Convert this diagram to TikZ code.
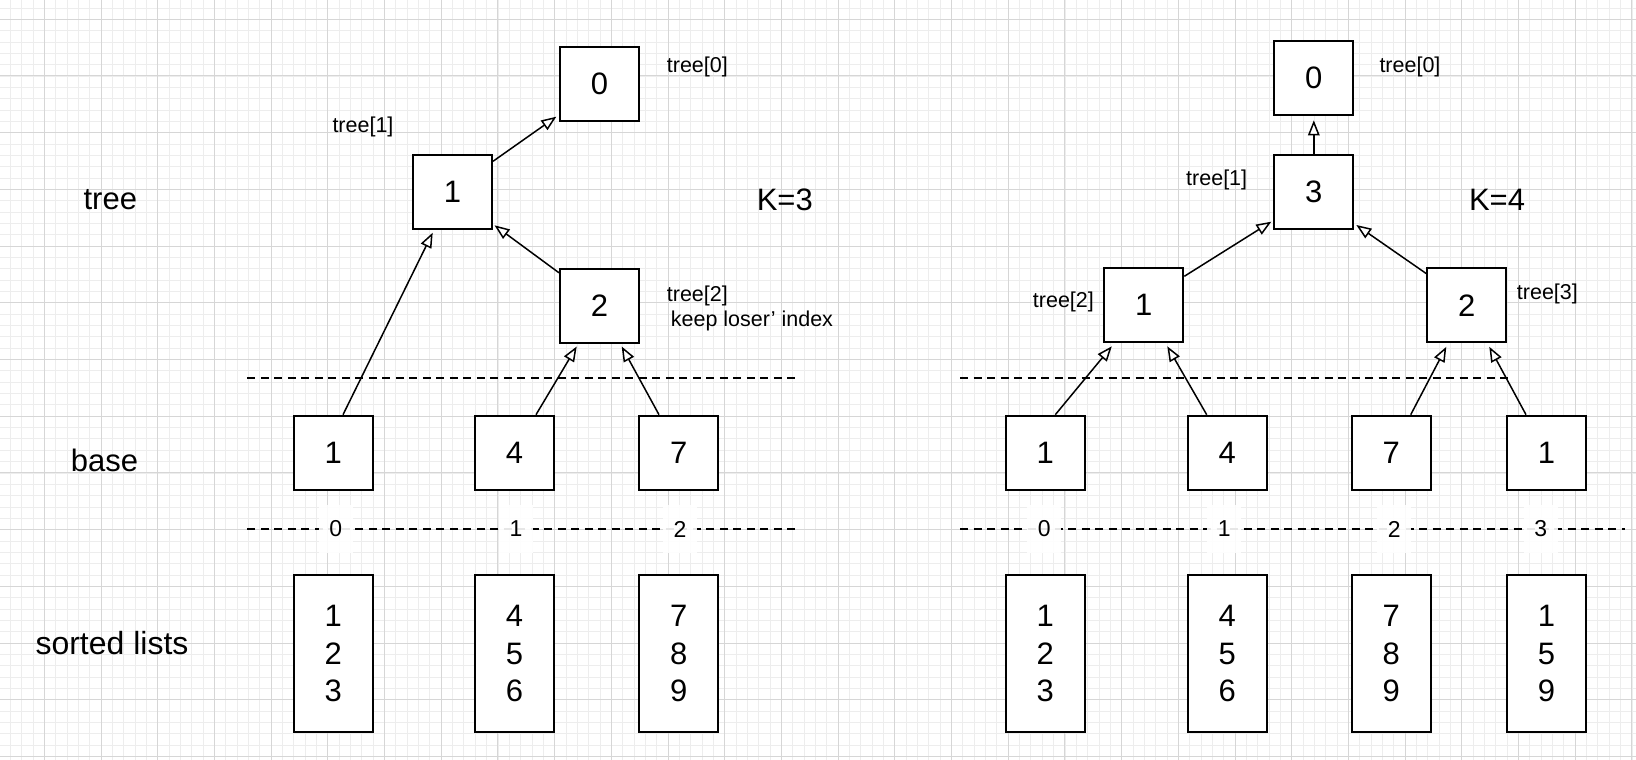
\documentclass[tikz,border=0pt]{standalone}
\usepackage{fontspec}
\setmainfont{Liberation Sans}
\usetikzlibrary{arrows.meta,calc}
\tikzset{
  cellbox/.style={draw, line width=2pt, fill=white, minimum width=79pt, minimum height=74pt, inner sep=0pt, font=\fontsize{31}{37}\selectfont},
  listbox/.style={cellbox, minimum height=157pt, align=center, font=\fontsize{31}{37.5}\selectfont},
  lbl/.style={inner sep=0pt, font=\fontsize{21.5}{25}\selectfont},
  bigtxt/.style={inner sep=0pt, font=\fontsize{31}{37}\selectfont},
  idx/.style={fill=white, fill opacity=0.9, text opacity=1, minimum width=34pt, minimum height=48pt, inner sep=0pt, font=\fontsize{23}{27}\selectfont},
  sepline/.style={line width=1.6pt, dash pattern=on 8pt off 5.5pt},
  link/.style={line width=1.5pt, -{Triangle[length=15pt,width=11.5pt,fill=white]}},
  minorgrid/.style={line width=0.8pt, draw=black!7},
  majorgrid/.style={line width=1pt, draw=black!16},
}
\begin{document}
\begin{tikzpicture}[x=1pt,y=-1pt]
\useasboundingbox (0,0) rectangle (1636,760);
\fill[white] (0,0) rectangle (1636,760);
% grid
\foreach \k in {-3,...,140} \draw[minorgrid] ({44.3+11.34*\k},0) -- ({44.3+11.34*\k},760);
\foreach \k in {-1,...,65} \draw[minorgrid] (0,{19.3+11.34*\k}) -- (1636,{19.3+11.34*\k});
\foreach \m in {0,...,28} \draw[majorgrid] ({44.3+56.7*\m},0) -- ({44.3+56.7*\m},760);
\foreach \m in {0,...,13} \draw[majorgrid] (0,{19.3+56.7*\m}) -- (1636,{19.3+56.7*\m});

% row labels
\node[bigtxt] (ltree) at (110.3,199.5) {tree};
\node[bigtxt] (lbase) at (104.5,460.4) {base};
\node[bigtxt, font=\fontsize{32}{38}\selectfont] (lsorted) at (112,642.7) {sorted lists};

% ---------- left: K=3 ----------
\node[cellbox] (L0) at (599.5,84) {0};
\node[cellbox] (L1) at (452.5,192) {1};
\node[cellbox] (L2) at (599.5,305.5) {2};
\node[cellbox] (LB0) at (333.3,452.7) {1};
\node[cellbox] (LB1) at (514.5,452.7) {4};
\node[cellbox] (LB2) at (678.8,452.7) {7};
\node[listbox] (LS0) at (333.3,653.8) {1\\2\\3};
\node[listbox] (LS1) at (514.5,653.8) {4\\5\\6};
\node[listbox] (LS2) at (678.8,653.8) {7\\8\\9};

\node[lbl, anchor=west] (tL0) at (666.7,67) {tree[0]};
\node[lbl, anchor=west] (tL1) at (332.3,127) {tree[1]};
\node[lbl, anchor=north west, align=left] (tL2) at (666.7,286) {tree[2]\\\hspace*{4pt}keep loser’ index};
\node[bigtxt] (K3) at (784.8,200) {K=3};

% ---------- right: K=4 ----------
\node[cellbox] (R0) at (1313.8,78.3) {0};
\node[cellbox] (R3) at (1313.8,192) {3};
\node[cellbox] (R1) at (1143.8,305.3) {1};
\node[cellbox] (R2) at (1466.8,305.3) {2};
\node[cellbox] (RB0) at (1045.3,452.7) {1};
\node[cellbox] (RB1) at (1227.3,452.7) {4};
\node[cellbox] (RB2) at (1391.3,452.7) {7};
\node[cellbox] (RB3) at (1546.5,452.7) {1};
\node[listbox] (RS0) at (1045.3,653.8) {1\\2\\3};
\node[listbox] (RS1) at (1227.3,653.8) {4\\5\\6};
\node[listbox] (RS2) at (1391.3,653.8) {7\\8\\9};
\node[listbox] (RS3) at (1546.5,653.8) {1\\5\\9};

\node[lbl, anchor=west] (tR0) at (1379.3,66.7) {tree[0]};
\node[lbl, anchor=west] (tR1) at (1186,180) {tree[1]};
\node[lbl, anchor=west] (tR2) at (1032.7,301.7) {tree[2]};
\node[lbl, anchor=west] (tR3) at (1516.7,294) {tree[3]};
\node[bigtxt] (K4) at (1497,200) {K=4};

% ---------- connectors left ----------
\draw[link] ($(LB0.north)+(9.7,0)$) -- ($(L1.south)+(-19.8,2.7)$);
\draw[link] ($(L1.north east)+(0,7.3)$) -- ($(L0.south west)+(-2.7,-5.3)$);
\draw[link] ($(L2.north west)+(0,5.3)$) -- ($(L1.south east)+(1.5,-4.7)$);
\draw[link] ($(LB1.north)+(21.5,0)$) -- ($(L2.south)+(-22.8,3)$);
\draw[link] ($(LB2.north)+(-19.8,0)$) -- ($(L2.south)+(22.2,3)$);

% ---------- connectors right ----------
\draw[link] (R3.north) -- ($(R0.south)+(0,4)$);
\draw[link] ($(R1.north east)+(0,9)$) -- ($(R3.south west)+(-2,-8.3)$);
\draw[link] ($(R2.north west)+(0,6.3)$) -- ($(R3.south east)+(2,-5)$);
\draw[link] ($(RB0.north)+(10,0)$) -- ($(R1.south)+(-32,3)$);
\draw[link] ($(RB1.north)+(-20.6,0)$) -- ($(R1.south)+(23.5,3)$);
\draw[link] ($(RB2.north)+(19.4,0)$) -- ($(R2.south)+(-20.5,3.5)$);
\draw[link] ($(RB3.north)+(-20.5,0)$) -- ($(R2.south)+(22.5,3.5)$);

% ---------- dashed separators ----------
\draw[sepline] (247.3,377.7) -- (798,377.7);
\draw[sepline] (247.3,529) -- (798,529);
\draw[sepline] (960,377.7) -- (1512,377.7);
\draw[sepline] (960,529) -- (1625,529);

% ---------- index labels ----------
\node[idx] (iL0) at (335.7,529) {0};
\node[idx] (iL1) at (516,529) {1};
\node[idx] (iL2) at (680,529) {2};
\node[idx] (iR0) at (1044.3,529) {0};
\node[idx] (iR1) at (1224.3,529) {1};
\node[idx] (iR2) at (1394.3,529) {2};
\node[idx] (iR3) at (1540.7,529) {3};
\end{tikzpicture}
\end{document}
